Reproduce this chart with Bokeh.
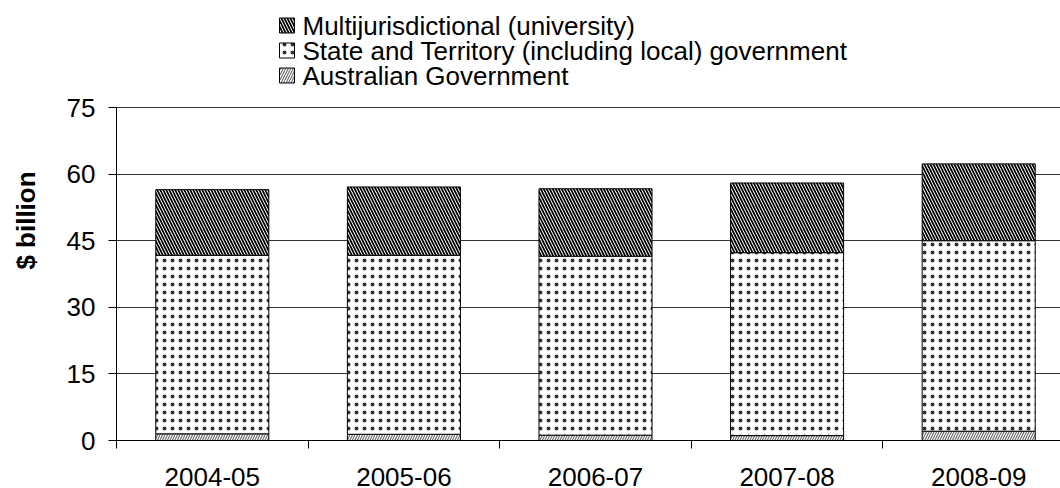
from bokeh.plotting import figure
from bokeh.models import ColumnDataSource, Range1d, FixedTicker
from bokeh.core.properties import value
from bokeh.embed import file_html
from bokeh.resources import INLINE

years = ["2004-05", "2005-06", "2006-07", "2007-08", "2008-09"]
australian_gov = [1.5, 1.4, 1.2, 1.1, 2.1]
state_territory = [40.2, 40.3, 40.3, 41.2, 42.9]
multijurisdictional = [14.8, 15.4, 15.2, 15.7, 17.3]

yticks = [0, 15, 30, 45, 60, 75]
series_labels = ["Australian Government",
                 "State and Territory (including local) government",
                 "Multijurisdictional (university)"]

FONT = "Liberation Sans"
HATCH = ["right_diagonal_line", "dot", "left_diagonal_line"]
HCOLOR = ["#707070", "#333333", "black"]
HSCALE = [5, 8, 6]
HWEIGHT = [1.2, 1.0, 1.7]

# layout constants (page pixels)
W, H = 1060, 488
FRAME_L, FRAME_R = 116, 1060
FRAME_T, FRAME_B = 0, 440
Y75_PX = 107
XPX = 191.6
YPX = (FRAME_B - Y75_PX) / 75.0
X0 = -0.5
XEND = X0 + (FRAME_R - FRAME_L) / XPX
YTOP = (FRAME_B - FRAME_T) / YPX


def px_x(px):
    return X0 + (px - FRAME_L) / XPX


def px_y(py):
    return (FRAME_B - py) / YPX


src = ColumnDataSource(dict(
    x=list(range(len(years))),
    aus=australian_gov,
    state=state_territory,
    multi=multijurisdictional,
))

p = figure(width=W, height=H, output_backend="svg", toolbar_location=None,
           x_range=Range1d(X0, XEND), y_range=Range1d(0, YTOP),
           min_border_left=FRAME_L, min_border_right=0, min_border_top=0,
           min_border_bottom=0)
p.outline_line_color = None

p.vbar_stack(["aus", "state", "multi"], x="x", width=0.59, source=src,
             fill_color="white", line_color="black", line_width=1,
             hatch_pattern=HATCH, hatch_color=HCOLOR,
             hatch_scale=HSCALE, hatch_weight=HWEIGHT)

# ---- legend (top, in order Multijurisdictional, State, Australian) ----
row_centers = [25, 50, 75]
order = [2, 1, 0]
for row, i in enumerate(order):
    cy = row_centers[row]
    p.quad(left=[px_x(279)], right=[px_x(294)],
           bottom=[px_y(cy + 7.5)], top=[px_y(cy - 7.5)],
           fill_color="white", line_color="black", line_width=1,
           hatch_pattern=HATCH[i], hatch_color=HCOLOR[i],
           hatch_scale=HSCALE[i], hatch_weight=HWEIGHT[i])
    p.text(x=[px_x(302)], y=[px_y(cy)], text=[series_labels[i]],
           text_font=value(FONT), text_font_size="26px", text_color="black",
           text_baseline="middle", text_align="left")

# x axis
p.xaxis.ticker = FixedTicker(ticks=list(range(len(years))),
                             minor_ticks=[i - 0.5 for i in range(len(years) + 1)])
p.xaxis.major_label_overrides = {i: y for i, y in enumerate(years)}
p.xaxis.major_tick_line_color = None
p.xaxis.major_tick_out = 0
p.xaxis.major_tick_in = 0
p.xaxis.minor_tick_out = 8
p.xaxis.minor_tick_in = 0
p.xaxis.minor_tick_line_color = "black"
p.xaxis.axis_line_color = "black"
p.xaxis.major_label_text_font = FONT
p.xaxis.major_label_text_font_size = "26px"
p.xaxis.major_label_text_color = "black"
p.xaxis.major_label_standoff = 19
p.xgrid.grid_line_color = None

# y axis
p.yaxis.ticker = FixedTicker(ticks=yticks, minor_ticks=[])
p.yaxis.bounds = (0, 75)
p.yaxis.major_tick_out = 8
p.yaxis.major_tick_in = 0
p.yaxis.major_tick_line_color = "black"
p.yaxis.axis_line_color = "black"
p.yaxis.major_label_text_font = FONT
p.yaxis.major_label_text_font_size = "26px"
p.yaxis.major_label_text_color = "black"
p.yaxis.major_label_standoff = 13
p.yaxis.axis_label = "$ billion"
p.yaxis.axis_label_text_font = FONT
p.yaxis.axis_label_text_font_size = "26px"
p.yaxis.axis_label_text_font_style = "bold"
p.yaxis.axis_label_text_color = "black"
p.yaxis.axis_label_standoff = 23
p.ygrid.ticker = FixedTicker(ticks=yticks)
p.ygrid.grid_line_color = "#333333"
p.ygrid.grid_line_width = 1

open("out.html", "w").write(file_html(p, INLINE))
